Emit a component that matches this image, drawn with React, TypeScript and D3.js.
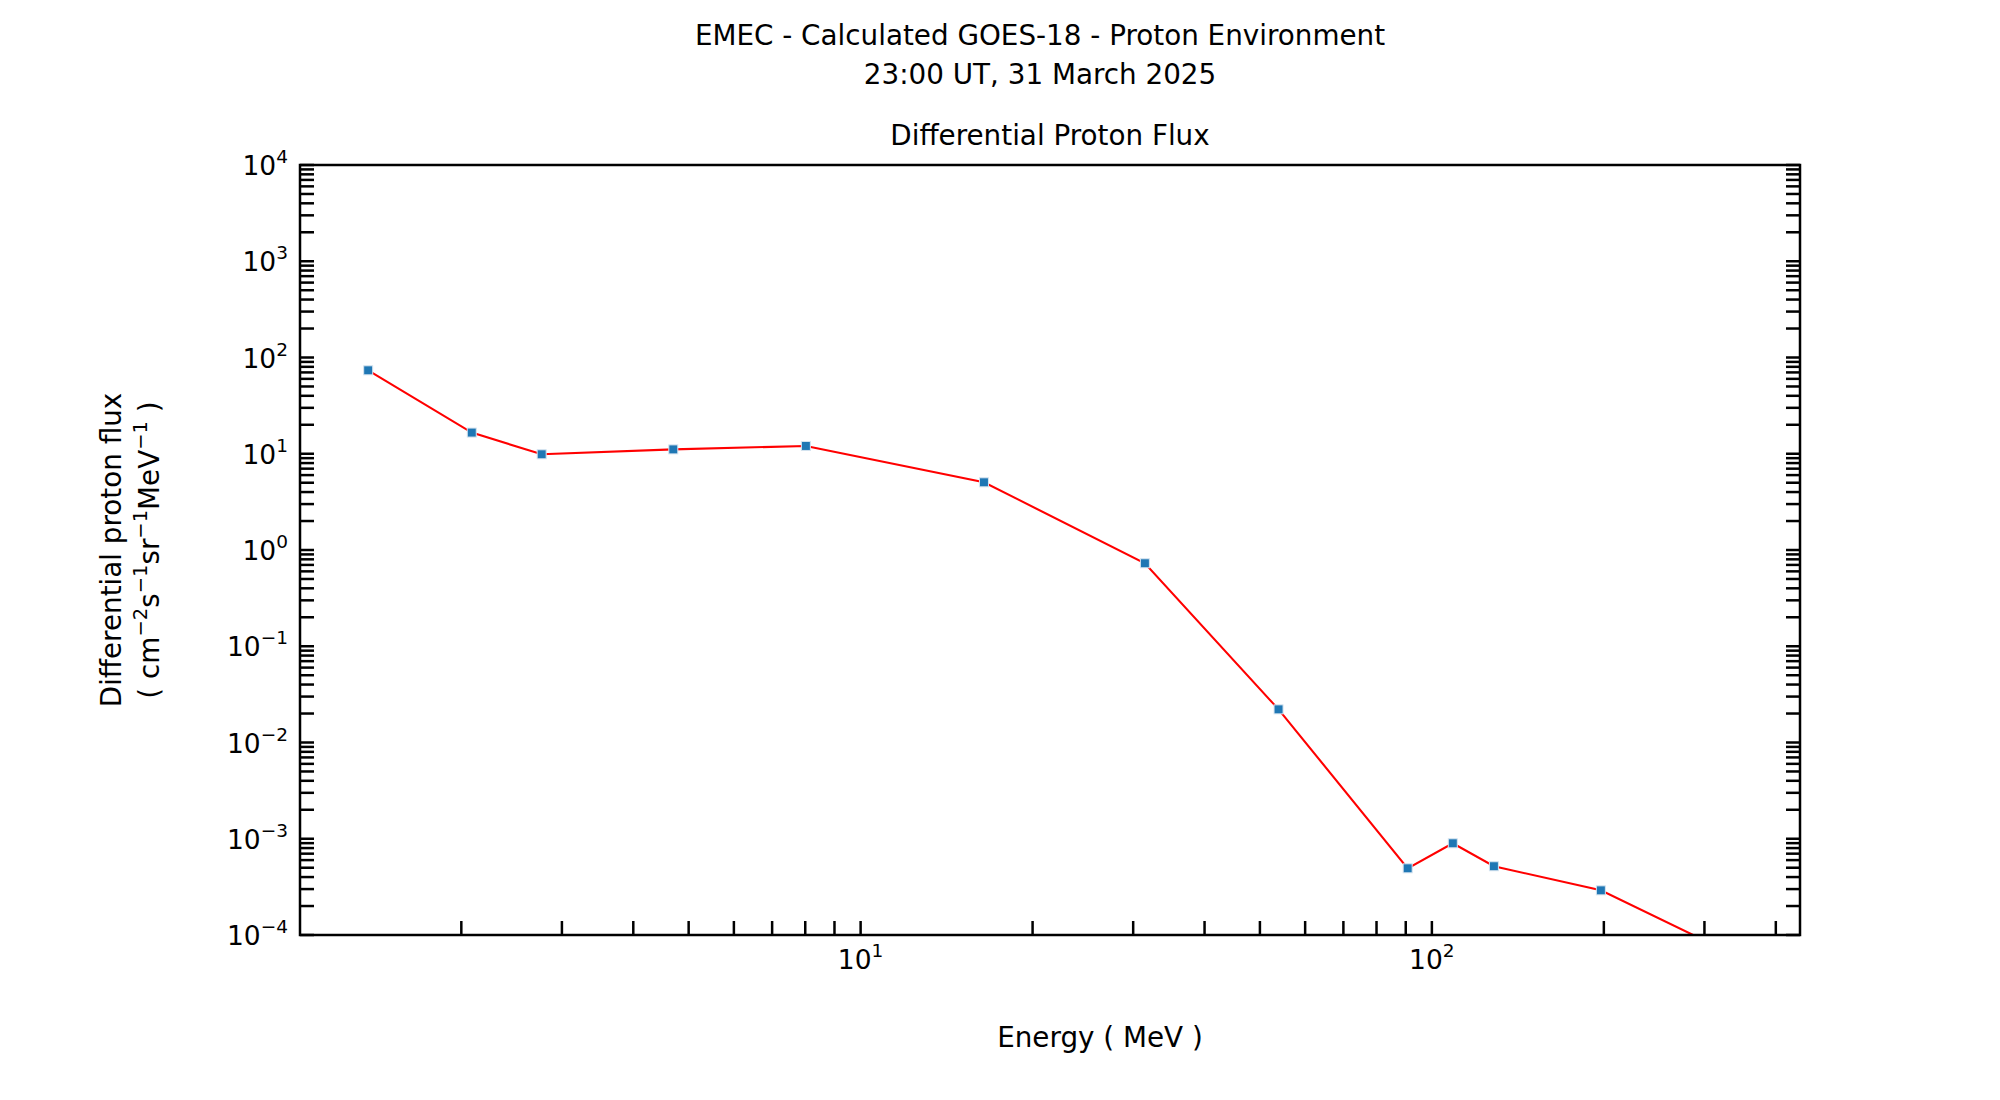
import React from 'react';
import * as d3 from 'd3';

// Energy channel centres (MeV) and calculated differential flux
const energies = [1.374, 2.086, 2.765, 4.70, 8.02, 16.44, 31.45, 53.9, 90.7, 108.8, 128.4, 197.6, 335];
const fluxes = [73.6, 16.6, 9.87, 11.1, 12.05, 5.05, 0.728, 0.0221, 4.93e-4, 8.97e-4, 5.18e-4, 2.91e-4, 6.4e-5];

const yDomain = [1e-4, 1e4];
const yMajorExps = [-4, -3, -2, -1, 0, 1, 2, 3, 4];
const xMajorExps = [1, 2];

const suptitleLines = ['EMEC - Calculated GOES-18 - Proton Environment', '23:00 UT, 31 March 2025'];
const axTitle = 'Differential Proton Flux';
const xLabel = 'Energy ( MeV )';
const yLabel1 = 'Differential proton flux';

const W = 2000;
const H = 1100;
const left = 300;
const right = 1800;
const top = 165;
const bottom = 935;
const FONT = 'DejaVu Sans, sans-serif';
const TICK = 14;

// matplotlib-style 5% margins in log space
const lo = Math.log10(d3.min(energies)!);
const hi = Math.log10(d3.max(energies)!);
const pad = (hi - lo) * 0.05;
const xDomain = [Math.pow(10, lo - pad), Math.pow(10, hi + pad)];

const App: React.FC = () => {
  const x = d3.scaleLog().domain(xDomain).range([left, right]);
  const y = d3.scaleLog().domain(yDomain).range([bottom, top]);

  const pts = energies.map((e, i) => [e, fluxes[i]] as [number, number]);
  const line = d3.line<[number, number]>()
    .x(d => x(d[0]))
    .y(d => y(d[1]));

  const yTicks = y.ticks();
  const xTicks = x.ticks();

  const sup = (exp: number) => (exp < 0 ? '\u2212' + Math.abs(exp) : String(exp));

  return (
    <svg width={W} height={H} style={{ position: 'absolute', left: 0, top: 0, background: '#fff' }} fontFamily={FONT}>
      <defs>
        <clipPath id="plot">
          <rect x={left} y={top} width={right - left} height={bottom - top} />
        </clipPath>
      </defs>
      <rect x={0} y={0} width={W} height={H} fill="#fff" />

      {/* titles */}
      <text x={1040} y={44.5} fontSize={27.8} textAnchor="middle">{suptitleLines[0]}</text>
      <text x={1040} y={83.5} fontSize={27.8} textAnchor="middle">{suptitleLines[1]}</text>
      <text x={(left + right) / 2} y={145} fontSize={27.8} textAnchor="middle">{axTitle}</text>

      {/* data */}
      <g clipPath="url(#plot)">
        <path d={line(pts) || ''} fill="none" stroke="#ff0000" strokeWidth={2.1} />
        {pts.map((d, i) => (
          <rect key={i} x={x(d[0]) - 4.5} y={y(d[1]) - 4.5} width={9} height={9}
            fill="#1f77b4" stroke="#d6e4f0" strokeWidth={1} />
        ))}
      </g>

      {/* ticks left & right */}
      <g stroke="#000" strokeWidth={2.5}>
        {yTicks.map((t, i) => (
          <g key={i}>
            <line x1={left} x2={left + TICK} y1={y(t)} y2={y(t)} />
            <line x1={right} x2={right - TICK} y1={y(t)} y2={y(t)} />
          </g>
        ))}
        {xTicks.map((t, i) => (
          <line key={i} x1={x(t)} x2={x(t)} y1={bottom} y2={bottom - TICK} />
        ))}
      </g>

      {/* spines */}
      <rect x={left} y={top} width={right - left} height={bottom - top} fill="none" stroke="#000" strokeWidth={2.5} />

      {/* y tick labels */}
      {yMajorExps.map(e => (
        <text key={e} x={288} y={y(Math.pow(10, e)) + 10} fontSize={26.5} textAnchor="end">
          10<tspan fontSize={18.5} dy={-12}>{sup(e)}</tspan>
        </text>
      ))}

      {/* x tick labels */}
      {xMajorExps.map(e => (
        <text key={e} x={x(Math.pow(10, e))} y={969} fontSize={26.5} textAnchor="middle">
          10<tspan fontSize={18.5} dy={-12}>{sup(e)}</tspan>
        </text>
      ))}

      {/* axis labels */}
      <text x={1100} y={1047} fontSize={27.8} textAnchor="middle">{xLabel}</text>
      <text transform={`translate(121,${(top + bottom) / 2}) rotate(-90)`} fontSize={27.8} textAnchor="middle">{yLabel1}</text>
      <text transform={`translate(159,${(top + bottom) / 2}) rotate(-90)`} fontSize={27.8} textAnchor="middle">
        ( cm<tspan fontSize={19.5} dy={-12}>{'\u22122'}</tspan>
        <tspan dy={12}>s</tspan><tspan fontSize={19.5} dy={-12}>{'\u22121'}</tspan>
        <tspan dy={12}>sr</tspan><tspan fontSize={19.5} dy={-12}>{'\u22121'}</tspan>
        <tspan dy={12}>MeV</tspan><tspan fontSize={19.5} dy={-12}>{'\u22121'}</tspan>
        <tspan dy={12}> )</tspan>
      </text>
    </svg>
  );
};

export default App;
